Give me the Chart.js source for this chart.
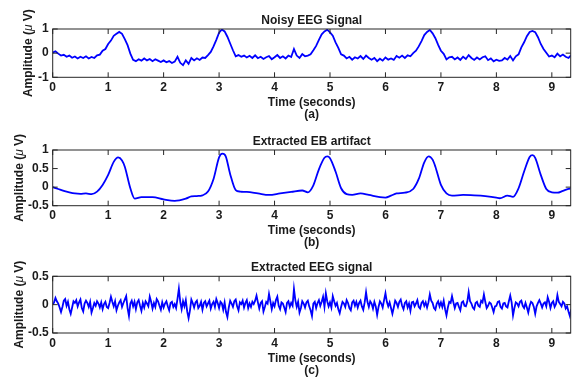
<!DOCTYPE html>
<html>
<head>
<meta charset="utf-8">
<script src="https://cdn.jsdelivr.net/npm/chart.js@4.4.1/dist/chart.umd.min.js"></script>
<style>
  html, body { margin: 0; padding: 0; background: #fff; }
  #wrap { position: relative; width: 572px; height: 381px; }
  #wrap canvas { position: absolute; left: 0; top: 0; }
</style>
</head>
<body>
<div id="wrap">
  <canvas id="panelA" width="572" height="381"></canvas>
  <canvas id="panelB" width="572" height="381"></canvas>
  <canvas id="panelC" width="572" height="381"></canvas>
</div>
<script>
// sampling steps of the noisy traces (seconds)
const DT_A = 0.05;
const DT_C = 0.025;
const T_MAX = 9.34;

// (a) noisy EEG, one value every DT_A seconds, rows of 0.5 s
const noisyEeg = [
  0.02, 0.08, -0.02, -0.1, -0.07, -0.15, -0.1, -0.19, -0.14, -0.22,
  -0.15, -0.2, -0.13, -0.22, -0.16, -0.2, -0.09, -0.06, 0.1, 0.17,
  0.38, 0.52, 0.72, 0.8, 0.88, 0.8, 0.58, 0.33, -0.02, -0.28,
  -0.33, -0.25, -0.31, -0.22, -0.3, -0.24, -0.33, -0.25, -0.31, -0.37,
  -0.3, -0.38, -0.33, -0.41, -0.35, -0.15, -0.4, -0.5, -0.3, -0.44,
  -0.2, -0.3, -0.21, -0.28, -0.18, -0.2, -0.08, 0.05, 0.28, 0.55,
  0.85, 0.98, 0.9, 0.68, 0.4, 0.12, -0.13, -0.08, -0.15, -0.1,
  -0.18, -0.11, -0.2, -0.09, -0.21, -0.15, -0.24, -0.17, -0.12, -0.25,
  -0.17, -0.08, -0.2, -0.13, -0.22, -0.1, -0.16, 0.17, -0.1, -0.2,
  -0.04, -0.13, -0.1, -0.05, 0.12, 0.3, 0.55, 0.78, 0.9, 0.97,
  0.86, 0.72, 0.45, 0.22, -0.05, -0.1, -0.22, -0.15, -0.27, -0.17,
  -0.22, -0.12, -0.24, -0.1, -0.2, -0.27, -0.2, -0.33, -0.23, -0.31,
  -0.18, -0.27, -0.22, -0.28, -0.12, -0.19, -0.1, -0.2, -0.09, -0.13,
  0.0, 0.1, 0.28, 0.5, 0.75, 0.88, 0.96, 0.82, 0.62, 0.34,
  0.1, -0.03, -0.26, -0.17, -0.15, -0.26, -0.18, -0.28, -0.15, -0.24,
  -0.08, -0.2, -0.28, -0.18, -0.26, -0.17, -0.13, -0.29, -0.22, -0.34,
  -0.27, -0.32, -0.3, -0.2, -0.27, -0.12, -0.3, -0.13, -0.05, 0.24,
  0.45, 0.7, 0.88, 0.92, 0.87, 0.66, 0.38, 0.17, 0.02, -0.14,
  -0.1, -0.17, -0.02, -0.13, -0.06, -0.15, -0.2, -0.08
];

// (b) extracted eye-blink artifact (smooth, read at these times)
const ebTimes = [
  0, 0.1, 0.2, 0.3, 0.4, 0.5, 0.6, 0.7, 0.8, 0.9,
  1.0, 1.1, 1.18, 1.25, 1.3, 1.4, 1.48, 1.6, 1.8, 2.0,
  2.2, 2.4, 2.5, 2.6, 2.7, 2.8, 2.9, 3.0, 3.06, 3.12,
  3.2, 3.3, 3.38, 3.5, 3.7, 3.9, 4.1, 4.3, 4.5, 4.6,
  4.7, 4.8, 4.9, 4.95, 5.0, 5.1, 5.2, 5.3, 5.4, 5.55,
  5.7, 5.9, 6.0, 6.1, 6.2, 6.35, 6.5, 6.6, 6.7, 6.78,
  6.85, 6.9, 7.0, 7.1, 7.2, 7.4, 7.6, 7.8, 8.0, 8.06,
  8.2, 8.3, 8.4, 8.5, 8.6, 8.65, 8.7, 8.8, 8.9, 9.0,
  9.1, 9.2, 9.3, 9.34
];
const ebArtifact = [
  0, -0.05, -0.1, -0.14, -0.17, -0.18, -0.17, -0.19, -0.12, 0.06,
  0.33, 0.68, 0.8, 0.72, 0.55, -0.03, -0.31, -0.27, -0.27, -0.33,
  -0.37, -0.31, -0.25, -0.24, -0.22, -0.12, 0.22, 0.8, 0.9, 0.83,
  0.35, -0.08, -0.12, -0.13, -0.17, -0.21, -0.17, -0.13, -0.09, -0.14,
  0.05, 0.48, 0.79, 0.83, 0.78, 0.42, -0.03, -0.19, -0.21, -0.17,
  -0.21, -0.27, -0.28, -0.23, -0.17, -0.15, -0.05, 0.22, 0.67, 0.83,
  0.74, 0.55, 0.06, -0.17, -0.23, -0.21, -0.22, -0.24, -0.28, -0.3,
  -0.23, -0.26, -0.03, 0.42, 0.81, 0.86, 0.79, 0.33, -0.05, -0.14,
  -0.15, -0.1, -0.05, -0.04
];

// (c) extracted EEG, one value every DT_C seconds, rows of 0.25 s
const cleanEeg = [
  0.0, 0.04, 0.12, 0.06, 0.02, -0.05, -0.13, -0.04, 0.07, 0.1,
  -0.02, 0.05, -0.08, -0.16, -0.05, 0.06, 0.03, 0.08, -0.03, 0.04,
  0.09, -0.06, -0.12, 0.02, 0.07, 0.03, -0.04, 0.05, -0.14, -0.06,
  0.03, -0.02, 0.06, 0.02, -0.05, 0.04, -0.08, 0.01, 0.05, -0.04,
  -0.06, 0.03, 0.14, 0.05, -0.03, 0.06, -0.1, -0.02, 0.04, 0.08,
  -0.04, 0.03, 0.09, 0.15, -0.06, -0.2, 0.02, 0.07, -0.03, 0.05,
  -0.08, 0.04, 0.08, -0.02, -0.11, 0.03, -0.05, 0.06, 0.02, -0.03,
  0.14, 0.05, -0.07, 0.03, -0.04, 0.1, 0.06, -0.02, -0.09, 0.04,
  -0.05, 0.02, 0.06, -0.03, -0.1, 0.03, 0.05, -0.04, 0.01, -0.06,
  0.1, 0.28, 0.05, -0.08, 0.06, -0.03, 0.08, -0.12, -0.24, -0.1,
  0.09, 0.03, -0.05, 0.04, 0.07, -0.06, -0.02, 0.05, -0.09, 0.03,
  0.06, -0.03, 0.02, 0.07, -0.07, 0.01, 0.05, -0.04, 0.1, 0.03,
  -0.06, 0.05, 0.02, -0.09, 0.04, -0.13, -0.22, -0.05, 0.07, 0.02,
  -0.04, 0.06, 0.09, -0.03, -0.1, 0.04, 0.01, 0.07, -0.05, 0.03,
  0.08, -0.06, 0.02, -0.04, 0.05, 0.01, 0.07, 0.16, 0.04, -0.07,
  0.03, 0.06, -0.12, -0.04, 0.05, 0.02, 0.19, 0.06, -0.08, 0.03,
  -0.03, 0.08, 0.14, -0.02, -0.08, 0.04, 0.02, -0.05, -0.13, 0.03,
  0.06, -0.04, 0.03, -0.02, 0.28, 0.08, -0.04, 0.05, -0.14, -0.06,
  0.06, 0.02, -0.05, 0.04, 0.07, -0.03, -0.1, -0.2, 0.02, 0.05,
  -0.06, 0.03, 0.08, -0.02, 0.05, 0.14, -0.04, 0.2, 0.06, -0.03,
  0.04, -0.05, 0.15, 0.06, -0.02, 0.03, -0.08, -0.15, -0.04, 0.05,
  0.02, -0.04, 0.08, 0.03, -0.06, -0.1, 0.04, 0.07, -0.02, 0.05,
  -0.05, 0.03, 0.07, -0.03, -0.09, 0.04, 0.22, 0.05, -0.04, 0.06,
  0.02, -0.07, 0.05, -0.03, -0.18, -0.04, 0.06, 0.02, -0.05, 0.08,
  0.2, 0.05, -0.03, 0.04, -0.06, -0.16, -0.05, 0.07, 0.03, -0.04,
  0.05, 0.09, -0.02, -0.08, 0.03, 0.06, -0.05, 0.02, -0.11, 0.04,
  0.05, -0.03, 0.02, 0.08, -0.04, -0.07, 0.03, 0.06, -0.02, 0.04,
  -0.05, 0.04, 0.18, 0.07, 0.03, -0.06, -0.09, 0.02, 0.06, -0.03,
  0.04, -0.04, 0.07, -0.08, -0.19, -0.05, 0.05, 0.03, 0.15, 0.04,
  -0.06, 0.02, 0.03, -0.04, -0.1, 0.04, 0.06, -0.02, -0.03, 0.05,
  0.22, 0.06, 0.02, -0.05, -0.08, 0.03, 0.05, -0.02, -0.04, 0.07,
  0.04, 0.18, 0.05, -0.06, -0.02, 0.04, 0.02, -0.05, -0.13, -0.03,
  -0.02, 0.05, 0.06, -0.04, -0.07, 0.02, 0.03, -0.03, -0.05, 0.06,
  0.16, 0.04, -0.19, -0.06, 0.04, 0.02, -0.03, 0.05, 0.07, -0.02,
  -0.06, 0.03, -0.05, -0.14, -0.02, 0.05, 0.03, -0.04, -0.16, -0.03,
  0.03, 0.08, 0.02, -0.05, 0.02, 0.04, -0.03, 0.13, 0.05, -0.06,
  0.03, 0.06, -0.04, 0.01, 0.17, 0.05, 0.01, -0.03, 0.05, 0.02,
  -0.07, -0.03, -0.12, -0.2, -0.08
];

const xTicks = [0, 1, 2, 3, 4, 5, 6, 7, 8, 9];
const yTicksA = [-1, 0, 1];
const yTicksB = [-0.5, 0, 0.5, 1];
const yTicksC = [-0.5, 0, 0.5];

const LINE_COLOR = '#0000ff';
const AXIS_COLOR = '#262626';
const TEXT_COLOR = '#1a1a1a';
const FONT_FAMILY = '"Liberation Sans", Arial, Helvetica, sans-serif';
const TICK_LEN = 5;

function sampled(values, dt) {
  return values.map((v, i) => ({ x: i * dt, y: v }));
}

// box, inward ticks on all four sides, titles and labels, MATLAB style
const matlabAxes = {
  id: 'matlabAxes',
  afterDraw(chart, args, opts) {
    const { ctx, chartArea: a, scales } = chart;
    ctx.save();
    ctx.strokeStyle = AXIS_COLOR;
    ctx.lineWidth = 1;
    ctx.strokeRect(a.left, a.top, a.right - a.left, a.bottom - a.top);
    ctx.beginPath();
    scales.x.ticks.forEach(t => {
      const px = scales.x.getPixelForValue(t.value);
      ctx.moveTo(px, a.bottom); ctx.lineTo(px, a.bottom - TICK_LEN);
      ctx.moveTo(px, a.top); ctx.lineTo(px, a.top + TICK_LEN);
    });
    scales.y.ticks.forEach(t => {
      const py = scales.y.getPixelForValue(t.value);
      ctx.moveTo(a.left, py); ctx.lineTo(a.left + TICK_LEN, py);
      ctx.moveTo(a.right, py); ctx.lineTo(a.right - TICK_LEN, py);
    });
    ctx.stroke();

    const cx = (a.left + a.right) / 2;
    ctx.fillStyle = TEXT_COLOR;
    ctx.font = 'bold 12px ' + FONT_FAMILY;
    ctx.textAlign = 'center';
    ctx.textBaseline = 'alphabetic';
    ctx.fillText(opts.title, cx, a.top - 5);
    ctx.fillText('Time (seconds)', cx, a.bottom + 28.7);
    ctx.fillText(opts.tag, cx, a.bottom + 40.7);

    // y label: "Amplitude (" + italic mu + " V)"
    const parts = [
      ['Amplitude (', 'bold 12px ' + FONT_FAMILY],
      ['\u03bc', 'italic 12px ' + FONT_FAMILY],
      [' V)', 'bold 12px ' + FONT_FAMILY]
    ];
    const widths = parts.map(p => { ctx.font = p[1]; return ctx.measureText(p[0]).width; });
    const total = widths.reduce((s, w) => s + w, 0);
    ctx.translate(opts.yLabelX, (a.top + a.bottom) / 2);
    ctx.rotate(-Math.PI / 2);
    ctx.textAlign = 'left';
    ctx.textBaseline = 'middle';
    let x = -total / 2;
    parts.forEach((p, i) => {
      ctx.font = p[1];
      ctx.fillText(p[0], x, 0);
      x += widths[i];
    });
    ctx.restore();
  }
};

function panel(id, points, smooth, p) {
  const font = { family: FONT_FAMILY, size: 12, weight: 'bold' };
  return new Chart(document.getElementById(id), {
    type: 'line',
    data: {
      datasets: [{
        data: points,
        borderColor: LINE_COLOR,
        borderWidth: 1.8,
        pointRadius: 0,
        tension: smooth ? 0.4 : 0,
        cubicInterpolationMode: smooth ? 'monotone' : 'default'
      }]
    },
    options: {
      responsive: false,
      animation: false,
      events: [],
      layout: { padding: { left: 0, right: 1.3, top: p.top, bottom: 381 - p.bottom - 20 } },
      scales: {
        x: {
          type: 'linear',
          min: 0,
          max: T_MAX,
          afterBuildTicks: s => { s.ticks = xTicks.map(v => ({ value: v })); },
          afterFit: s => { s.height = 20; },
          grid: { display: false, drawTicks: false },
          border: { display: false },
          ticks: { padding: 3, maxRotation: 0, autoSkip: false, color: TEXT_COLOR, font }
        },
        y: {
          type: 'linear',
          min: p.yMin,
          max: p.yMax,
          afterBuildTicks: s => { s.ticks = p.yTicks.map(v => ({ value: v })); },
          afterFit: s => { s.width = 52.7; },
          grid: { display: false, drawTicks: false },
          border: { display: false },
          ticks: { padding: 4, autoSkip: false, color: TEXT_COLOR, font, callback: v => String(v) }
        }
      },
      plugins: {
        legend: { display: false },
        tooltip: { enabled: false },
        matlabAxes: { title: p.title, tag: p.tag, yLabelX: p.yLabelX }
      }
    },
    plugins: [matlabAxes]
  });
}

panel('panelA', sampled(noisyEeg, DT_A), false, {
  top: 29, bottom: 77.3, yMin: -1, yMax: 1, yTicks: yTicksA,
  title: 'Noisy EEG Signal', tag: '(a)', yLabelX: 29
});
panel('panelB', ebTimes.map((t, i) => ({ x: t, y: ebArtifact[i] })), true, {
  top: 150, bottom: 205.7, yMin: -0.5, yMax: 1, yTicks: yTicksB,
  title: 'Extracted EB artifact', tag: '(b)', yLabelX: 20
});
panel('panelC', sampled(cleanEeg, DT_C), false, {
  top: 276.3, bottom: 333, yMin: -0.5, yMax: 0.5, yTicks: yTicksC,
  title: 'Extracted EEG signal', tag: '(c)', yLabelX: 20
});
</script>
</body>
</html>
